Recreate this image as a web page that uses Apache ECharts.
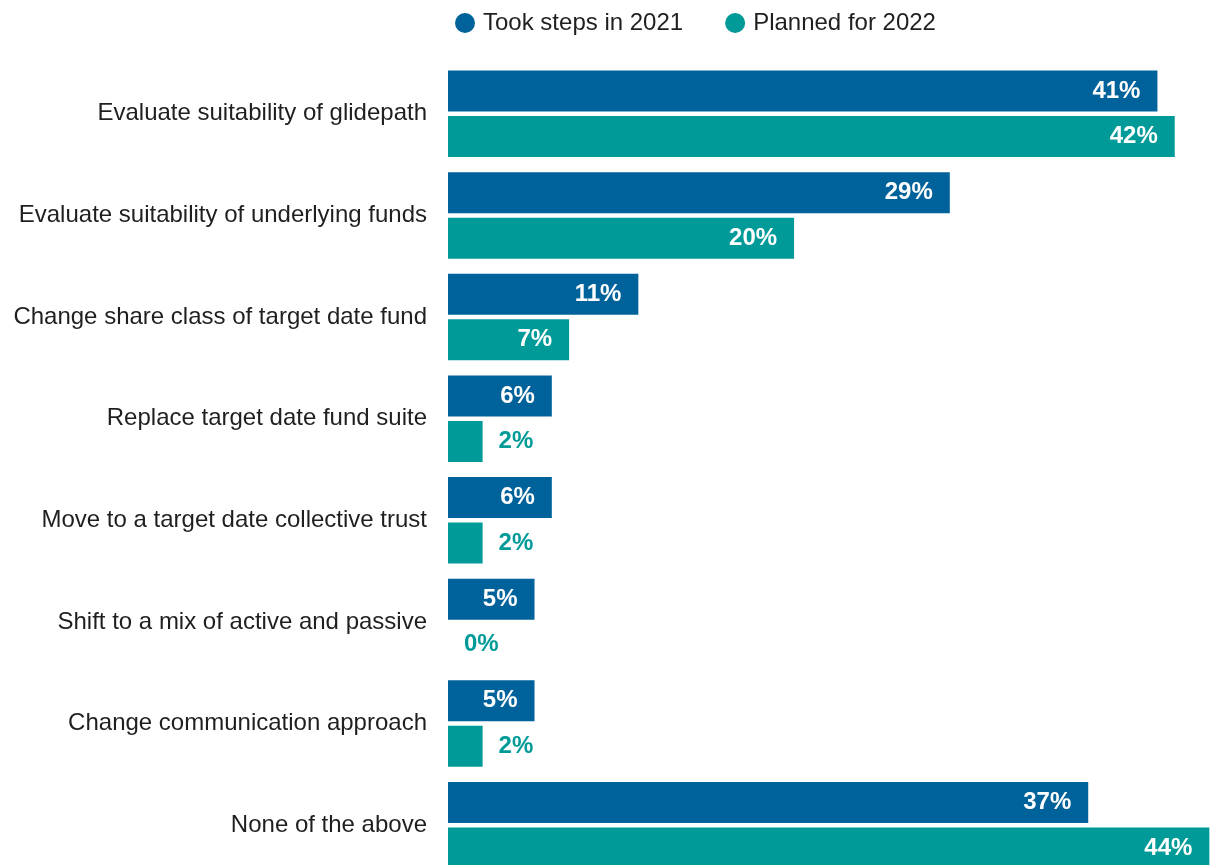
<!DOCTYPE html>
<html>
<head>
<meta charset="utf-8">
<script src="https://cdn.jsdelivr.net/npm/echarts@6/dist/echarts.min.js"></script>
<style>
  html, body { margin: 0; padding: 0; background: #fff; overflow: hidden; }
  /* the plot runs slightly past the bottom edge of the window */
  #chart { width: 1218px; height: 876px; }
</style>
</head>
<body>
<div id="chart"></div>
<script>
// Target date fund actions taken vs. planned (% of respondents)
const categories = [
  'Evaluate suitability of glidepath',
  'Evaluate suitability of underlying funds',
  'Change share class of target date fund',
  'Replace target date fund suite',
  'Move to a target date collective trust',
  'Shift to a mix of active and passive',
  'Change communication approach',
  'None of the above'
];
const seriesNames = ['Took steps in 2021', 'Planned for 2022'];
const took2021 = [41, 29, 11, 6, 6, 5, 5, 37];
const planned2022 = [42, 20, 7, 2, 2, 0, 2, 44];

const BLUE = '#00629A';
const TEAL = '#009B98';
const FONT = '"Liberation Sans", Arial, sans-serif';

// Short bars carry their value label outside, in the bar colour
function withLabels(values, color) {
  return values.map(v => {
    if (v < 3) {
      return {
        value: v,
        label: { position: 'right', distance: 16, color: color }
      };
    }
    return { value: v };
  });
}

const baseLabel = {
  show: true,
  position: 'insideRight',
  distance: 17,
  color: '#ffffff',
  fontFamily: FONT,
  fontSize: 24,
  fontWeight: 'bold',
  formatter: p => p.value + '%'
};

const chart = echarts.init(document.getElementById('chart'), null, { renderer: 'canvas' });
chart.setOption({
  animation: false,
  textStyle: { fontFamily: FONT },
  legend: {
    left: 455,
    top: 11,
    padding: 0,
    icon: 'circle',
    itemWidth: 20,
    itemHeight: 20,
    itemGap: 42,
    textStyle: { fontFamily: FONT, fontSize: 24, color: '#1f1f1f', padding: [0, 0, 0, 3] },
    data: seriesNames
  },
  grid: { left: 448, top: 63, right: 0, bottom: 0, containLabel: false },
  xAxis: {
    type: 'value',
    min: 0,
    max: 44.5,
    show: false
  },
  yAxis: {
    type: 'category',
    data: categories,
    inverse: true,
    axisLine: { show: false },
    axisTick: { show: false },
    splitLine: { show: false },
    axisLabel: {
      margin: 21,
      fontFamily: FONT,
      fontSize: 24,
      color: '#1f1f1f'
    }
  },
  series: [
    {
      name: seriesNames[0],
      type: 'bar',
      barWidth: 41,
      barGap: '11%',
      itemStyle: { color: BLUE },
      label: baseLabel,
      data: withLabels(took2021, BLUE)
    },
    {
      name: seriesNames[1],
      type: 'bar',
      barWidth: 41,
      barGap: '11%',
      itemStyle: { color: TEAL },
      label: baseLabel,
      data: withLabels(planned2022, TEAL)
    }
  ]
});
</script>
</body>
</html>
